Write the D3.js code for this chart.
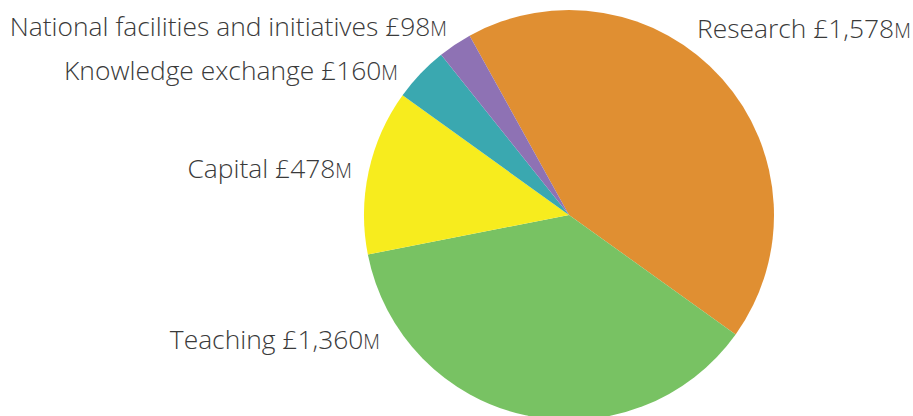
<!DOCTYPE html>
<html><head><meta charset="utf-8">
<script src="https://cdn.jsdelivr.net/npm/d3@7"></script>
<style>html,body{margin:0;padding:0;background:#fff;overflow:hidden}</style>
</head><body>
<svg id="c" width="913" height="416"></svg>
<script>
const categories = ["Research", "Teaching", "Capital", "Knowledge exchange", "National facilities and initiatives"];
const values = [1578, 1360, 478, 160, 98];
const valueLabels = ["£1,578", "£1,360", "£478", "£160", "£98"];
const colors = ["#E08F32", "#78C263", "#F7EC1E", "#3AA8B0", "#8E72B4"];

// label layout (x, y, anchor)
const labelLayout = [
  {x: 697, y: 38, anchor: "start"},
  {x: 380, y: 349, anchor: "end"},
  {x: 352, y: 178, anchor: "end"},
  {x: 398, y: 80, anchor: "end"},
  {x: 447, y: 36, anchor: "end"}
];

const svg = d3.select("#c");
const cx = 569, cy = 215, r = 205;
const pie = d3.pie().sort(null).value(d => d)
  .startAngle(-29 * Math.PI / 180).endAngle((360 - 29) * Math.PI / 180);
const arc = d3.arc().innerRadius(0).outerRadius(r);
const g = svg.append("g").attr("transform", `translate(${cx},${cy})`);
g.selectAll("path").data(pie(values)).enter().append("path")
  .attr("d", arc).attr("fill", (d, i) => colors[i]);

const lbl = svg.selectAll("text.lbl").data(categories).enter().append("text")
  .attr("class", "lbl")
  .attr("x", (d, i) => labelLayout[i].x)
  .attr("y", (d, i) => labelLayout[i].y)
  .attr("text-anchor", (d, i) => labelLayout[i].anchor)
  .style("font-family", "'Open Sans', sans-serif")
  .style("font-weight", 300)
  .style("font-size", "26.4px")
  .attr("fill", "#3a3a3a");
lbl.append("tspan").text((d, i) => d + " " + valueLabels[i]);
lbl.append("tspan").text("M").style("font-size", "19.3px");
</script>
</body></html>
